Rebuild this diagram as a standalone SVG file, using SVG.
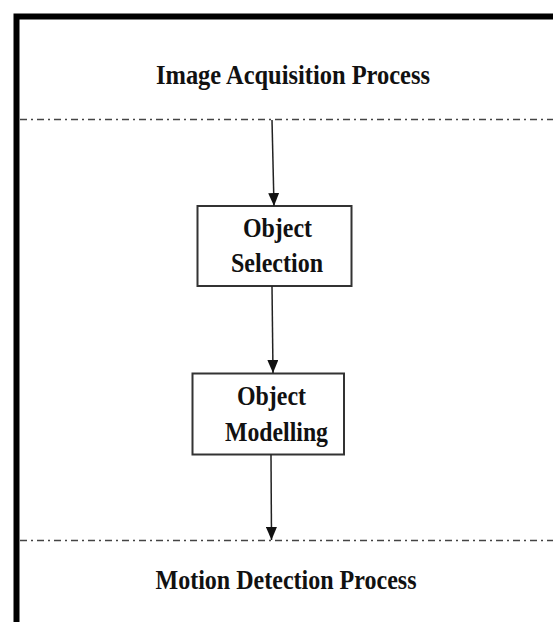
<svg xmlns="http://www.w3.org/2000/svg" width="553" height="622" viewBox="0 0 553 622">
  <style>
    .frame { stroke: #000; stroke-width: 6; fill: none; stroke-linecap: round; }
    .divider { stroke: #444; stroke-width: 1.3; stroke-dasharray: 7 4 2 4; fill: none; }
    .box { fill: #fff; stroke: #333; stroke-width: 2; }
    .edge { stroke: #222; stroke-width: 1.5; fill: none; }
    .title { font-family: "Liberation Serif", "Times New Roman", serif; font-weight: bold; font-size: 27px; fill: #111; }
    .label { font-family: "Liberation Serif", "Times New Roman", serif; font-weight: bold; font-size: 27px; fill: #111; }
  </style>
  <defs>
    <marker id="arrow" markerWidth="13" markerHeight="11" refX="13" refY="5.5" orient="auto" markerUnits="userSpaceOnUse" viewBox="0 0 13 11">
      <path d="M0,0 L13,5.5 L0,11 Z" fill="#111"/>
    </marker>
  </defs>
  <rect width="553" height="622" fill="#fff"/>

  <!-- outer frame: top and left edges -->
  <g id="frame">
    <path class="frame" d="M16.5,622 L16.5,16.5 L556,16.5"/>
  </g>

  <!-- swimlane dividers -->
  <g id="dividers">
    <line class="divider" x1="20" y1="119.5" x2="553" y2="119.5"/>
    <line class="divider" x1="20" y1="540.5" x2="553" y2="540.5"/>
  </g>

  <g id="image-acquisition">
    <text class="title" x="156" y="83.5" textLength="274" lengthAdjust="spacingAndGlyphs">Image Acquisition Process</text>
  </g>

  <g id="object-selection">
    <rect class="box" x="197.5" y="206" width="154" height="80"/>
    <text class="label" x="243" y="237" textLength="69" lengthAdjust="spacingAndGlyphs">Object</text>
    <text class="label" x="231" y="272" textLength="92" lengthAdjust="spacingAndGlyphs">Selection</text>
  </g>

  <g id="object-modelling">
    <rect class="box" x="192.5" y="373.5" width="151.5" height="81"/>
    <text class="label" x="237" y="405" textLength="69" lengthAdjust="spacingAndGlyphs">Object</text>
    <text class="label" x="225" y="441" textLength="103" lengthAdjust="spacingAndGlyphs">Modelling</text>
  </g>

  <g id="motion-detection">
    <text class="title" x="155.5" y="588.5" textLength="261" lengthAdjust="spacingAndGlyphs">Motion Detection Process</text>
  </g>

  <!-- flow arrows -->
  <g id="connectors">
    <line class="edge" x1="272" y1="120" x2="274" y2="206" marker-end="url(#arrow)"/>
    <line class="edge" x1="272" y1="286" x2="273" y2="373" marker-end="url(#arrow)"/>
    <line class="edge" x1="271" y1="454.5" x2="271.5" y2="540" marker-end="url(#arrow)"/>
  </g>
</svg>
